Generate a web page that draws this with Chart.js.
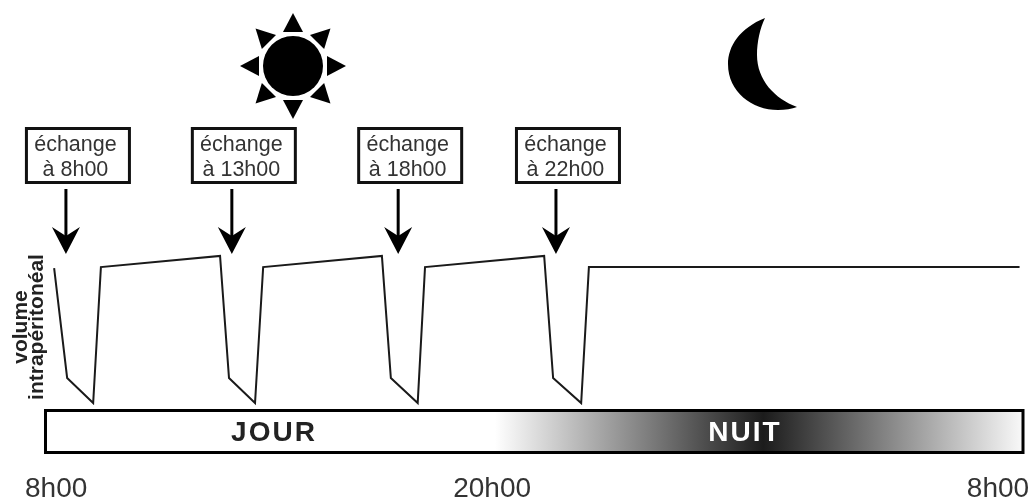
<!DOCTYPE html>
<html>
<head>
<meta charset="utf-8">
<script src="https://cdn.jsdelivr.net/npm/chart.js@4"></script>
<style>
    html, body {margin: 0; padding: 0; background: #fff;}
    canvas {display: block;}
</style>
</head>
<body>
<canvas id="dialyseChart" width="1031" height="501"></canvas>
<script>
// x = position on the 24h axis (8 -> 32), y = relative volume (0-100)
const timeValues = [8.20, 8.52, 9.16, 9.35, 12.28, 12.50, 13.14, 13.34, 16.26, 16.48, 17.14, 17.32, 20.25, 20.47, 21.16, 21.35, 31.94];
const volumeValues = [85.5, 19.3, 4.2, 86.1, 92.8, 19.3, 4.2, 86.1, 92.8, 19.3, 4.2, 86.1, 92.8, 19.3, 4.2, 86.1, 86.1];

const tickValues = [8.25, 18.97, 31.41];
const tickLabels = ['8h00', '20h00', '8h00'];

const exchangeTimes = [8.49, 12.57, 16.66, 20.54];
const exchangeLabels = ['à 8h00', 'à 13h00', 'à 18h00', 'à 22h00'];

const yAxisTitle = ['volume', 'intrapéritonéal'];

function drawSun(ctx) {
    const cx = 293, cy = 66;
    ctx.fillStyle = '#000';
    ctx.beginPath();
    ctx.arc(cx, cy, 30, 0, Math.PI * 2);
    ctx.fill();
    for (let k = 0; k < 8; k++) {
        const a = k * Math.PI / 4;
        const ux = Math.cos(a), uy = Math.sin(a);
        ctx.beginPath();
        ctx.moveTo(cx + ux * 53, cy + uy * 53);
        ctx.lineTo(cx + ux * 34 - uy * 10, cy + uy * 34 + ux * 10);
        ctx.lineTo(cx + ux * 34 + uy * 10, cy + uy * 34 - ux * 10);
        ctx.closePath();
        ctx.fill();
    }
}

function drawMoon(ctx) {
    ctx.fillStyle = '#000';
    ctx.beginPath();
    ctx.moveTo(765, 18);
    ctx.bezierCurveTo(740, 28, 728, 46, 728, 64);
    ctx.bezierCurveTo(728, 92, 752, 110, 778, 110);
    ctx.bezierCurveTo(785, 110, 792, 109, 797, 107);
    ctx.bezierCurveTo(775, 99, 757, 80, 757, 55);
    ctx.bezierCurveTo(757, 42, 760, 28, 765, 18);
    ctx.closePath();
    ctx.fill();
}

function drawExchange(ctx, x, label) {
    const bx = x + 12;
    // box
    ctx.strokeStyle = '#111';
    ctx.lineWidth = 3;
    ctx.strokeRect(bx - 51.5, 128.5, 103, 54);
    ctx.fillStyle = '#333';
    ctx.font = '21.5px "Liberation Sans"';
    ctx.textAlign = 'center';
    ctx.textBaseline = 'alphabetic';
    // the text sits a little left of the box centre
    ctx.fillText('échange', bx - 2.5, 151);
    ctx.fillText(label, bx - 2.5, 176);
    // arrow
    ctx.strokeStyle = '#000';
    ctx.beginPath();
    ctx.moveTo(x, 189);
    ctx.lineTo(x, 240);
    ctx.stroke();
    ctx.fillStyle = '#000';
    ctx.beginPath();
    ctx.moveTo(x, 254);
    ctx.lineTo(x - 14, 227);
    ctx.lineTo(x, 236);
    ctx.lineTo(x + 14, 227);
    ctx.closePath();
    ctx.fill();
}

function drawDayBar(ctx, xScale) {
    const left = xScale.getPixelForValue(8);
    const right = xScale.getPixelForValue(32);
    const grad = ctx.createLinearGradient(left, 0, right, 0);
    grad.addColorStop(0, '#fff');
    grad.addColorStop(0.46, '#fff');
    grad.addColorStop(0.735, '#1c1c1c');
    grad.addColorStop(1, '#f8f8f8');
    ctx.fillStyle = grad;
    ctx.fillRect(left, 411, right - left, 42);
    ctx.strokeStyle = '#000';
    ctx.lineWidth = 3;
    ctx.strokeRect(left - 0.5, 410.5, right - left + 1.5, 42);

    ctx.font = 'bold 28px "Liberation Sans"';
    ctx.letterSpacing = '2px';
    ctx.textAlign = 'center';
    ctx.textBaseline = 'middle';
    ctx.fillStyle = '#222';
    ctx.fillText('JOUR', 274, 433);
    ctx.fillStyle = '#fff';
    ctx.fillText('NUIT', 745, 433);
    ctx.letterSpacing = '0px';
}

const decorPlugin = {
    id: 'decor',
    beforeDatasetsDraw(chart) {
        const ctx = chart.ctx;
        const xScale = chart.scales.x;
        ctx.save();
        drawSun(ctx);
        drawMoon(ctx);
        exchangeTimes.forEach((t, i) => {
            drawExchange(ctx, xScale.getPixelForValue(t), exchangeLabels[i]);
        });
        drawDayBar(ctx, xScale);
        ctx.restore();
    }
};

const ctx = document.getElementById('dialyseChart').getContext('2d');
new Chart(ctx, {
    type: 'line',
    data: {
        datasets: [{
            data: timeValues.map((t, i) => ({x: t, y: volumeValues[i]})),
            borderColor: '#1a1a1a',
            borderWidth: 2,
            pointRadius: 0,
            tension: 0,
            fill: false
        }]
    },
    options: {
        responsive: false,
        animation: false,
        layout: {padding: {left: 8, right: 9, top: 244, bottom: 0}},
        plugins: {legend: {display: false}, tooltip: {enabled: false}},
        scales: {
            x: {
                type: 'linear',
                min: 8,
                max: 32,
                border: {display: false},
                grid: {display: false},
                afterBuildTicks: scale => {
                    scale.ticks = tickValues.map(v => ({value: v}));
                },
                afterFit: scale => {
                    // keep the plot area fixed, labels are placed by hand
                    scale.height = 91;
                    scale.paddingLeft = 0;
                    scale.paddingRight = 0;
                },
                ticks: {
                    padding: 54,
                    autoSkip: false,
                    maxRotation: 0,
                    color: '#333',
                    font: {family: '"Liberation Sans"', size: 28},
                    callback: (value, index) => tickLabels[index]
                }
            },
            y: {
                min: 0,
                max: 100,
                border: {display: false},
                grid: {display: false},
                ticks: {display: false},
                afterFit: scale => {
                    scale.width = 38;
                },
                title: {
                    display: true,
                    text: yAxisTitle,
                    color: '#222',
                    padding: {top: 5, bottom: 0},
                    font: {family: '"Liberation Sans"', size: 21, weight: 'bold', lineHeight: 0.76}
                }
            }
        }
    },
    plugins: [decorPlugin]
});
</script>
</body>
</html>
